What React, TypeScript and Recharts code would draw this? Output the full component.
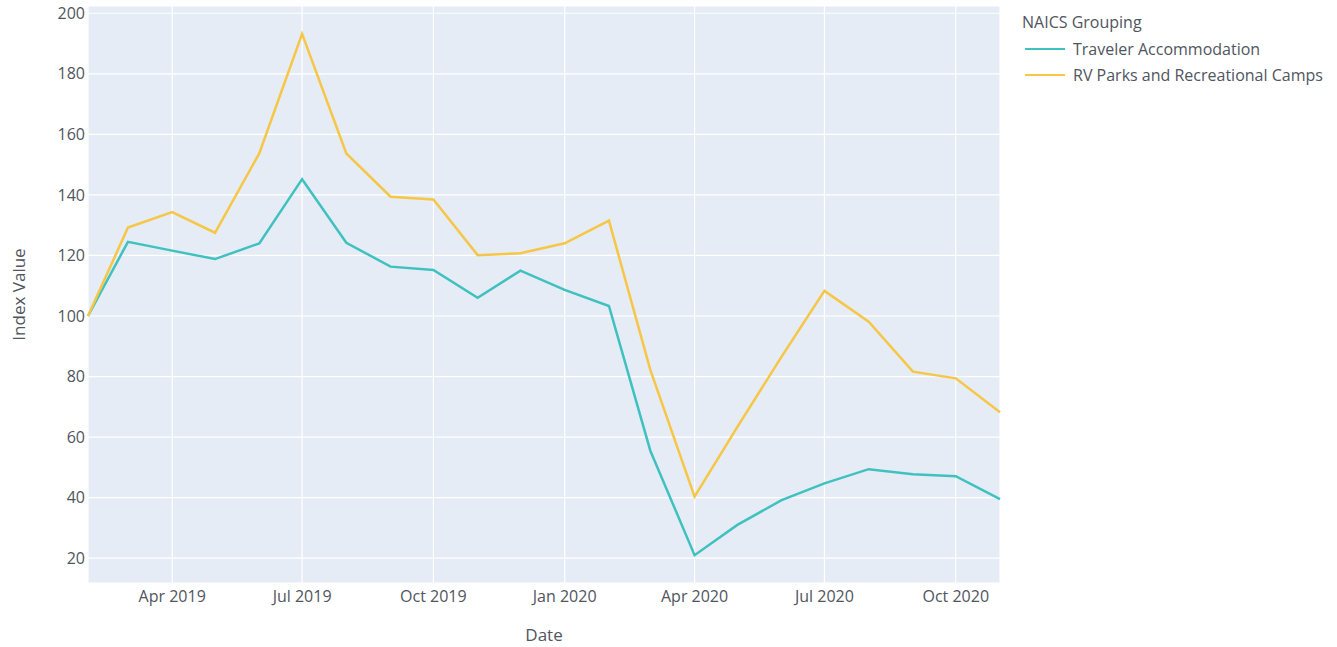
import React from 'react';
import { LineChart, Line, XAxis, YAxis, CartesianGrid, Legend } from 'recharts';

const months = [
  '2019-02', '2019-03', '2019-04', '2019-05', '2019-06', '2019-07', '2019-08', '2019-09',
  '2019-10', '2019-11', '2019-12', '2020-01', '2020-02', '2020-03', '2020-04', '2020-05',
  '2020-06', '2020-07', '2020-08', '2020-09', '2020-10', '2020-11',
];

const travelerAccommodation = [
  100, 124.5, 121.6, 118.8, 124, 145.2, 124.2, 116.3, 115.2, 106, 115, 108.6,
  103.3, 55.5, 21, 31, 39.2, 44.7, 49.4, 47.7, 47.1, 39.5,
];

const rvParks = [
  100, 129.2, 134.3, 127.5, 153.7, 193.2, 153.7, 139.4, 138.5, 120.1, 120.7, 124,
  131.5, 82.2, 40.3, 63.4, 86.6, 108.3, 98.1, 81.6, 79.4, 68.2,
];

const xTickMonths = ['2019-04', '2019-07', '2019-10', '2020-01', '2020-04', '2020-07', '2020-10'];
const xTickLabels = ['Apr 2019', 'Jul 2019', 'Oct 2019', 'Jan 2020', 'Apr 2020', 'Jul 2020', 'Oct 2020'];
const yTicks = [20, 40, 60, 80, 100, 120, 140, 160, 180, 200];

const SERIES = [
  { key: 'traveler', name: 'Traveler Accommodation', color: '#3fc1c0' },
  { key: 'rv', name: 'RV Parks and Recreational Camps', color: '#f6c646' },
];

const toTime = (m: string) => {
  const [y, mo] = m.split('-').map(Number);
  return Date.UTC(y, mo - 1, 1);
};

const data = months.map((m, i) => ({
  date: toTime(m),
  traveler: travelerAccommodation[i],
  rv: rvParks[i],
}));

const xTicks = xTickMonths.map(toTime);
const labelFor = (t: number) => xTickLabels[xTicks.indexOf(t)] ?? '';

const FONT = '"Open Sans", sans-serif';
const TEXT = '#50555e';

const LegendBox = () => (
  <div style={{ fontFamily: FONT, fontSize: 16, color: TEXT, lineHeight: '26.5px' }}>
    <div>NAICS Grouping</div>
    {SERIES.map(s => (
      <div key={s.key} style={{ display: 'flex', alignItems: 'center' }}>
        <span style={{ display: 'inline-block', width: 40, height: 2, background: s.color, marginLeft: 3, marginRight: 8 }} />
        <span>{s.name}</span>
      </div>
    ))}
  </div>
);

const YTitle = ({ viewBox }: any) => {
  const x = 18;
  const y = viewBox.y + viewBox.height / 2;
  return (
    <text x={x} y={y} transform={`rotate(-90 ${x} ${y})`} textAnchor="middle" dominantBaseline="central"
      fill={TEXT} style={{ fontFamily: FONT, fontSize: 17 }}>
      Index Value
    </text>
  );
};

const XTitle = ({ viewBox }: any) => (
  <text x={viewBox.x + viewBox.width / 2} y={634} textAnchor="middle" dominantBaseline="central"
    fill={TEXT} style={{ fontFamily: FONT, fontSize: 17 }}>
    Date
  </text>
);

export default function App() {
  return (
    <div style={{ position: 'absolute', left: 0, top: 0, width: 1337, height: 647, background: '#fff' }}>
      <LineChart width={1337} height={647} data={data} margin={{ top: 6, right: 337, bottom: 0, left: 0 }}>
        <CartesianGrid stroke="#ffffff" strokeWidth={1.2} fill="#e6ecf5" fillOpacity={1} />
        <XAxis
          dataKey="date"
          type="number"
          scale="time"
          domain={[data[0].date, data[data.length - 1].date]}
          ticks={xTicks}
          tickFormatter={labelFor}
          height={64}
          axisLine={false}
          tickLine={false}
          tickSize={0}
          tickMargin={8}
          tick={{ fill: TEXT, fontFamily: FONT, fontSize: 16 }}
          label={{ content: XTitle }}
        />
        <YAxis
          type="number"
          domain={[11.8, 202.4]}
          allowDataOverflow
          ticks={yTicks}
          width={88}
          axisLine={false}
          tickLine={false}
          tickSize={0}
          tickMargin={3}
          tick={{ fill: TEXT, fontFamily: FONT, fontSize: 16 }}
          label={{ content: YTitle }}
        />
        <Legend
          layout="vertical"
          align="center"
          verticalAlign="middle"
          content={LegendBox}
          wrapperStyle={{ left: 1022, top: 9, width: 315, height: 90 }}
        />
        {SERIES.map(s => (
          <Line
            key={s.key}
            type="linear"
            dataKey={s.key}
            name={s.name}
            stroke={s.color}
            strokeWidth={2.5}
            dot={false}
            activeDot={false}
            isAnimationActive={false}
          />
        ))}
      </LineChart>
    </div>
  );
}
